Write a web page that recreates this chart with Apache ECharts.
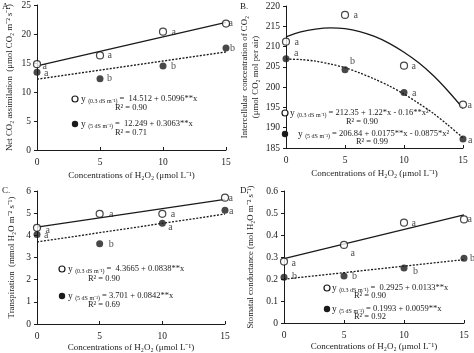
<!DOCTYPE html>
<html><head><meta charset="utf-8">
<script src="https://cdn.jsdelivr.net/npm/echarts@6/dist/echarts.min.js"></script>
<style>html,body{margin:0;padding:0;background:#fff}#c{width:474px;height:353px}</style>
</head><body><div id="c"></div>
<script>
// ---- data ----
const xCats = [0, 5, 10, 15];

// A. Net CO2 assimilation
const aOpen = [14.8, 16.3, 20.4, 21.8];
const aFilled = [13.4, 12.3, 14.5, 17.6];
const aOpenLetters = ['a', 'a', 'a', 'a'];
const aFilledLetters = ['a', 'b', 'b', 'b'];
const aFitOpen = [[0, 14.5], [15, 22.0]];
const aFitFilled = [[0, 12.2], [15, 16.9]];
const aTicks = [0, 5, 10, 15, 20, 25];

// B. Intercellular CO2
const bOpen = [211.2, 217.8, 205.3, 195.7];
const bFilled = [207.0, 204.3, 198.7, 187.2];
const bOpenLetters = ['a', 'a', 'a', 'a'];
const bFilledLetters = ['a', 'b', 'a', 'a'];
const bFitX = [0, 1.25, 2.5, 3.75, 5, 6.25, 7.5, 8.75, 10, 11.25, 12.5, 13.75, 15];
const bFitOpenY = [212.4, 213.6, 214.3, 214.6, 214.4, 213.7, 212.5, 210.8, 208.6, 206.0, 202.8, 199.0, 194.8];
const bFitFilledY = [206.9, 206.8, 206.4, 205.7, 204.8, 203.5, 202.0, 200.3, 198.3, 196.0, 193.5, 190.6, 187.5];
const bTicks = [185, 190, 195, 200, 205, 210, 215, 220];

// C. Transpiration
const cOpen = [4.34, 4.97, 4.97, 5.70];
const cFilled = [4.04, 3.62, 4.54, 5.13];
const cOpenLetters = ['a', 'a', 'a', 'a'];
const cFilledLetters = ['a', 'b', 'a', 'a'];
const cFitOpen = [[0, 4.37], [15, 5.62]];
const cFitFilled = [[0, 3.70], [15, 4.96]];
const cTicks = [0, 1, 2, 3, 4, 5, 6];

// D. Stomatal conductance
const dOpen = [0.279, 0.355, 0.456, 0.471];
const dFilled = [0.208, 0.214, 0.250, 0.294];
const dOpenLetters = ['a', 'a', 'a', 'a'];
const dFilledLetters = ['b', 'b', 'b', 'b'];
const dFitOpen = [[0, 0.2925], [15, 0.492]];
const dFitFilled = [[0, 0.1993], [15, 0.288]];
const dTicks = [0, 0.1, 0.2, 0.3, 0.4, 0.5, 0.6];

const xName = 'Concentrations of H₂O₂ (μmol L⁻¹)';
const yNames = [
  'Net CO₂ assimilation  (μmol CO₂ m⁻² s⁻¹)',
  'Intercellular  concentration of CO₂\n(μmol CO₂ mol per air)',
  'Transpiration  (mmol H₂O m⁻² s⁻¹)',
  'Stomatal conductance (mol H₂O m⁻² s⁻¹)'
];
const eqOpen = ['=  14.512 + 0.5096**x', '= 212.35 + 1.22*x - 0.16**x²', '=  4.3665 + 0.0838**x', '=  0.2925 + 0.0133**x'];
const eqFilled = ['=  12.249 + 0.3063**x', '= 206.84 + 0.0175**x - 0.0875*x²', '= 3.701 + 0.0842**x', '= 0.1993 + 0.0059**x'];
const r2Open = ['R² = 0.90', 'R² = 0.90', 'R² = 0.90', 'R² = 0.90'];
const r2Filled = ['R² = 0.71', 'R² = 0.99', 'R² = 0.69', 'R² = 0.92'];
const panelTags = ['A.', 'B.', 'C.', 'D.'];

// ---- layout / style ----
const FONT = '"Liberation Serif", "Times New Roman", serif';
const INK = '#1a1a1a';
const grids = [
  {left: 37, top: 5, width: 189, height: 145},
  {left: 286, top: 6, width: 177, height: 142},
  {left: 37, top: 191, width: 188, height: 133},
  {left: 284, top: 191, width: 180, height: 132}
];
const yCfg = [
  {ticks: aTicks, nameGap: 22},
  {ticks: bTicks, nameGap: 25},
  {ticks: cTicks, nameGap: 20},
  {ticks: dTicks, nameGap: 28}
];
// letter label offsets per point: [left edge dx from centre, vertical dy]
const offOpen = [
  [[6, 3], [8, 1], [9, 1], [3, 0]],
  [[9, 1], [9, 1], [8, 1], [5, 1]],
  [[9, 3], [10, 1], [9, 1], [4, 1]],
  [[8, 2], [7, 9], [8, 1], [4, 1]]
];
const offFilled = [
  [[7, 1], [7, 0], [8, 0], [4, 0]],
  [[8, -5], [5, -8], [8, 1], [5, 1]],
  [[7, 1], [9, 1], [6, 4], [4, 1]],
  [[8, -1], [8, 0], [9, 3], [6, 0]]
];
// legend layout: [markerX, row1Y, r2Y, row2Y, r2bY, textX, r2X, text2X, r2bX]
const legendPos = [
  [75, 99, 108, 124, 133, 81, 131, 81, 131],
  [285, 113, 122, 134, 142, 290, 362, 298, 372],
  [62, 269, 279, 296, 305, 68, 104, 68, 104],
  [327, 288, 296, 309, 317, 332, 370, 332, 370]
];

const sets = [
  [aOpen, aFilled, aOpenLetters, aFilledLetters, aFitOpen, aFitFilled],
  [bOpen, bFilled, bOpenLetters, bFilledLetters, bFitX.map((x, i) => [x, bFitOpenY[i]]), bFitX.map((x, i) => [x, bFitFilledY[i]])],
  [cOpen, cFilled, cOpenLetters, cFilledLetters, cFitOpen, cFitFilled],
  [dOpen, dFilled, dOpenLetters, dFilledLetters, dFitOpen, dFitFilled]
];

const SYM = 7;
const option = {
  backgroundColor: '#fff',
  animation: false,
  textStyle: {fontFamily: FONT, color: INK},
  grid: grids.map(g => Object.assign({containLabel: false}, g)),
  xAxis: grids.map((g, i) => ({
    type: 'value', gridIndex: i, min: 0, max: 15, interval: 5,
    name: xName, nameLocation: 'middle', nameGap: i < 2 ? 21 : 19,
    nameTextStyle: {fontFamily: FONT, fontSize: 9, color: INK},
    axisLine: {lineStyle: {color: INK, width: 1}},
    axisTick: {inside: true, length: 3, lineStyle: {color: INK}},
    axisLabel: {fontFamily: FONT, fontSize: 9.5, color: INK, margin: 7},
    splitLine: {show: false}
  })),
  yAxis: grids.map((g, i) => {
    const t = yCfg[i].ticks;
    return {
      type: 'value', gridIndex: i, min: t[0], max: t[t.length - 1], interval: t[1] - t[0],
      name: yNames[i], nameLocation: 'middle', nameRotate: 90, nameGap: yCfg[i].nameGap,
      nameTextStyle: {fontFamily: FONT, fontSize: 8.8, color: INK, lineHeight: 11},
      axisLine: {show: true, lineStyle: {color: INK, width: 1}},
      axisTick: {show: true, length: 3, lineStyle: {color: INK}},
      axisLabel: {fontFamily: FONT, fontSize: 9.5, color: INK, margin: 6,
        formatter: v => (i === 3 ? (v === 0 ? '0' : v.toFixed(1)) : String(v))},
      splitLine: {show: false}
    };
  }),
  series: [],
  graphic: []
};

function letterLabel(txt, off) {
  return {show: true, formatter: txt, position: [SYM / 2 + off[0], SYM / 2 + off[1]],
    align: 'left', verticalAlign: 'middle', fontFamily: FONT, fontSize: 10, color: INK};
}

sets.forEach((s, i) => {
  const [op, fi, ol, fl, fo, ff] = s;
  option.series.push({
    type: 'line', xAxisIndex: i, yAxisIndex: i, data: fo, symbol: 'none', smooth: i === 1 ? 0.3 : false,
    lineStyle: {color: INK, width: 1.3}, z: 2, silent: true
  });
  option.series.push({
    type: 'line', xAxisIndex: i, yAxisIndex: i, data: ff, symbol: 'none', smooth: i === 1 ? 0.3 : false,
    lineStyle: {color: INK, width: 1.3, type: [2, 1.5]}, z: 2, silent: true
  });
  option.series.push({
    type: 'scatter', xAxisIndex: i, yAxisIndex: i, clip: false, symbol: 'circle', symbolSize: SYM, z: 5,
    itemStyle: {color: '#fff', borderColor: INK, borderWidth: 1.2},
    data: op.map((v, k) => ({value: [xCats[k], v], label: letterLabel(ol[k], offOpen[i][k])}))
  });
  option.series.push({
    type: 'scatter', xAxisIndex: i, yAxisIndex: i, clip: false, symbol: 'circle', symbolSize: SYM, z: 5,
    itemStyle: {color: INK},
    data: fi.map((v, k) => ({value: [xCats[k], v], label: letterLabel(fl[k], offFilled[i][k])}))
  });
  const L = legendPos[i];
  const rich = {
    y: {fontFamily: FONT, fontSize: 9.5, fill: INK},
    s: {fontFamily: FONT, fontSize: 6, fill: INK, padding: [4, 0, 0, 0]},
    e: {fontFamily: FONT, fontSize: 8.5, fill: INK}
  };
  option.graphic.push(
    {type: 'circle', shape: {cx: L[0], cy: L[1], r: 3}, style: {fill: '#fff', stroke: INK, lineWidth: 1.2}, z: 10},
    {type: 'text', x: L[5], y: L[1], style: {text: '{y|y }{s|(0.3 dS m⁻¹)}{e| ' + eqOpen[i] + '}', rich, verticalAlign: 'middle', fill: INK}, z: 10},
    {type: 'text', x: L[6], y: L[2], style: {text: r2Open[i], font: '8.5px ' + FONT, fill: INK, align: 'center', verticalAlign: 'middle'}, z: 10},
    {type: 'circle', shape: {cx: L[0], cy: L[3], r: 3.2}, style: {fill: INK}, z: 10},
    {type: 'text', x: L[7], y: L[3], style: {text: '{y|y }{s|(5 dS m⁻¹)}{e| ' + eqFilled[i] + '}', rich, verticalAlign: 'middle', fill: INK}, z: 10},
    {type: 'text', x: L[8], y: L[4], style: {text: r2Filled[i], font: '8.5px ' + FONT, fill: INK, align: 'center', verticalAlign: 'middle'}, z: 10},
    {type: 'text', x: [2, 240, 2, 240][i], y: [2, 2, 186, 186][i], style: {text: panelTags[i], font: '9px ' + FONT, fill: INK}, z: 10}
  );
});

const chart = echarts.init(document.getElementById('c'), null, {renderer: 'canvas'});
chart.setOption(option);
</script>
</body></html>
